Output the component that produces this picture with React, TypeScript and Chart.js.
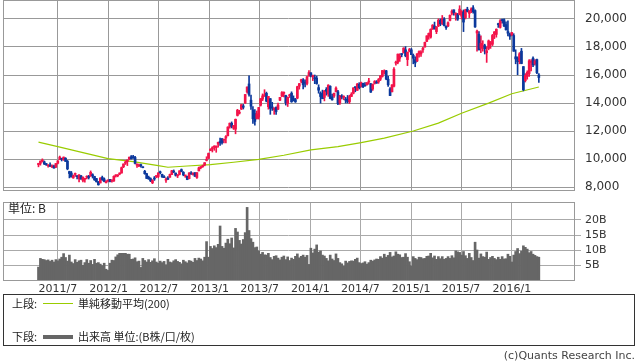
import React, { useEffect, useRef } from "react";
import { Chart, registerables } from "chart.js";
Chart.register(...registerables);

// ---- data (weekly, first bar = week ending 2011-04-22) ----
const firstWeek = "2011-04-22";

const opens = [
  // 2011
  9600, 9690, 9850, 9800, 9620, 9520, 9560, 9440, 9500, 9420, 9700, 9980, 10040, 9950, 10050, 9840, 9100, 9000, 8650, 8900,
  8780, 8600, 8800, 8470, 8550, 8700, 8770, 8780, 8880, 8750, 8600, 8340, 8290, 8680, 8580, 8300, 8440,
  // 2012
  8550, 8420, 8430, 8790, 8800, 8930, 9000, 9450, 9700, 9810, 10010, 10160, 10100, 10110, 9560, 9500, 9580, 9420, 9120, 8950,
  8700, 8600, 8300, 8630, 8750, 8750, 9050, 8900, 8740, 8490, 8640, 8700, 8890, 9130, 8990, 8800, 8900, 9240, 9050, 8790,
  8760, 8600, 9000, 8900, 9020, 8680, 9150, 9380, 9460, 9570, 9900, 10050,
  // 2013
  10600, 10740, 10850, 10820, 11060, 11240, 11420, 11350, 11500, 11660, 12300, 12550, 12200, 12130, 13110, 13270, 13570, 13790, 14000, 14790,
  15360, 14200, 13500, 13240, 12890, 13000, 13840, 14280, 14490, 14690, 13740, 14310, 13690, 13520, 13680, 13560, 14200, 14490, 14690, 14530,
  13960, 14520, 14700, 14320, 14240, 14350, 15200, 15550, 15650, 15500, 15400, 15950,
  // 2014
  16150, 15880, 15740, 15780, 15100, 14700, 14640, 14400, 14970, 14650, 15200, 14440, 14500, 14800, 14800, 14000, 14500, 14400, 14280, 14250,
  14100, 14470, 14700, 15150, 14900, 15340, 15200, 15400, 15300, 15300, 15500, 15370, 15000, 15400, 15500, 15500, 15700, 15900, 16200, 16300,
  15700, 15000, 14800, 15200, 16850, 16900, 17200, 17500, 17600, 17800, 17100, 17700, 17800,
  // 2015
  17400, 17100, 17000, 17500, 17500, 17800, 18000, 18400, 18800, 18700, 19300, 19500, 19100, 19500, 19900, 19700, 20000, 19500, 19500, 19900,
  20400, 20650, 20300, 20300, 20300, 20200, 20500, 20100, 20700, 20400, 20600, 20800, 20600, 19000, 18900, 17900, 18000, 18100, 17600, 17900,
  18200, 18200, 18900, 18900, 19600, 19400, 19900, 19950, 19600, 19100, 18900, 18850,
  // 2016
  18820, 17300, 17200, 17000, 17700, 16600, 15600, 15900, 16100, 16900, 17200, 16800, 17100, 16000,
];

const highs = [
  9700, 9870, 10010, 9860, 9680, 9580, 9720, 9590, 9570, 9680, 9880, 10210, 10060, 10150, 10100, 9900, 9130, 9110, 8860, 9000,
  8820, 8880, 8830, 8730, 8620, 8800, 8830, 9150, 8950, 8770, 8620, 8400, 8660, 8780, 8650, 8460, 8500,
  8550, 8510, 8800, 8880, 8880, 9010, 9430, 9650, 9870, 9930, 10140, 10250, 10255, 10190, 9650, 9630, 9640, 9440, 9190, 8980,
  8780, 8660, 8530, 8750, 8800, 9020, 9140, 8930, 8810, 8660, 8750, 8920, 9190, 9220, 9010, 8890, 9160, 9290, 9100, 8840,
  8780, 9030, 9100, 9010, 9030, 9030, 9420, 9460, 9560, 9740, 10160, 10430,
  10740, 10880, 10950, 10930, 11200, 11500, 11480, 11430, 11670, 12300, 12570, 12650, 12400, 12860, 13550, 13480, 13890, 13900, 14610, 15160,
  15942, 14560, 13750, 13530, 13430, 13690, 14320, 14650, 14950, 14780, 14470, 14320, 14050, 13600, 13730, 14000, 14410, 14820, 14800, 14560,
  14440, 14630, 14800, 14510, 14330, 15200, 15400, 15700, 15750, 15650, 15900, 16320,
  16170, 16000, 16000, 15920, 15300, 14800, 14920, 14900, 15100, 15310, 15230, 14640, 14700, 15160, 14900, 14550, 14600, 14520, 14400, 14540,
  14560, 14740, 15100, 15150, 15400, 15450, 15490, 15420, 15450, 15460, 15760, 15400, 15360, 15600, 15600, 15750, 15960, 16320, 16370, 16330,
  15900, 15100, 15320, 16530, 17000, 17500, 17520, 17530, 17950, 18030, 17650, 17900, 17900,
  17500, 17300, 17530, 17720, 17750, 17980, 18360, 18800, 19000, 19300, 19600, 19780, 19460, 20010, 20000, 20250, 20100, 19500, 19800, 20300,
  20660, 20660, 20450, 20400, 20950, 20600, 20650, 20700, 20840, 20600, 20800, 20950, 20650, 19200, 19100, 18800, 18450, 18200, 18000, 18500,
  18400, 18900, 19100, 19300, 19700, 19960, 20000, 20012, 19800, 19870, 19000, 19050,
  18950, 17800, 17300, 17600, 17900, 16600, 16100, 16300, 17100, 17100, 17290, 17100, 17130, 16100,
];

const lows = [
  9440, 9560, 9780, 9600, 9540, 9410, 9460, 9380, 9350, 9380, 9650, 9950, 9860, 9900, 9820, 9230, 8650, 8710, 8620, 8760,
  8570, 8360, 8560, 8360, 8340, 8580, 8570, 8760, 8640, 8470, 8350, 8130, 8290, 8470, 8370, 8290, 8380,
  8360, 8340, 8400, 8710, 8730, 8870, 8990, 9380, 9610, 9530, 9950, 10000, 10040, 9640, 9390, 9450, 9420, 9370, 8910, 8610,
  8550, 8380, 8240, 8470, 8660, 8660, 8940, 8690, 8660, 8330, 8520, 8680, 8880, 9020, 8780, 8670, 8860, 9080, 8800, 8690,
  8520, 8580, 8900, 8850, 8750, 8620, 9140, 9300, 9400, 9510, 9860, 10030,
  10590, 10500, 10620, 10480, 10850, 10970, 11060, 11140, 11150, 11650, 12200, 12220, 12110, 11800, 13070, 13210, 13530, 13570, 13970, 14700,
  14480, 13550, 12550, 12415, 12850, 12850, 13780, 14170, 14470, 14080, 13560, 13190, 13470, 13190, 13180, 13530, 14160, 14450, 14440, 13850,
  13750, 14390, 14050, 14140, 14040, 14300, 14990, 15440, 15010, 15150, 15300, 15900,
  15860, 15600, 15380, 15340, 14700, 13990, 14300, 14150, 14560, 14470, 14300, 14200, 14400, 14790, 13885, 13900, 14290, 14230, 14000, 14000,
  13960, 14450, 14650, 14800, 14900, 15000, 15130, 15100, 15200, 15280, 15350, 14750, 14900, 15350, 15400, 15400, 15600, 15850, 16060, 15660,
  15180, 14530, 14800, 15150, 16700, 16800, 16970, 17300, 17560, 17300, 16670, 17650, 17450,
  16800, 16590, 16950, 17270, 17320, 17620, 17990, 18380, 18550, 18630, 19250, 19280, 18950, 19450, 19520, 19600, 19500, 19260, 19450, 19860,
  20300, 20280, 19910, 19900, 20300, 20000, 19100, 20000, 20500, 20100, 20450, 20420, 19400, 17700, 17800, 17600, 17700, 17500, 16900, 17800,
  17900, 18100, 18600, 18700, 19400, 19350, 19700, 19450, 19200, 18800, 18550, 18800,
  17690, 16800, 16017, 16800, 16800, 14865, 15500, 15700, 15900, 16300, 16600, 16700, 16100, 15470,
];

const closes = [
  9682, 9849, 9859, 9648, 9607, 9521, 9492, 9514, 9351, 9678, 9868, 10137, 9974, 10132, 9833, 9299, 8963, 8719, 8797, 8950,
  8737, 8864, 8560, 8700, 8606, 8747, 8678, 9050, 8801, 8514, 8375, 8160, 8643, 8536, 8401, 8395, 8455,
  8390, 8500, 8766, 8841, 8831, 8947, 9384, 9647, 9777, 9930, 10130, 10011, 10084, 9689, 9638, 9562, 9520, 9380, 8953, 8611,
  8580, 8440, 8460, 8570, 8799, 9007, 9021, 8725, 8670, 8566, 8555, 8891, 9163, 9070, 8840, 8872, 9159, 9110, 8870, 8863,
  8534, 9002, 8933, 8990, 8757, 9024, 9366, 9446, 9527, 9737, 9940, 10395,
  10688, 10801, 10913, 10926, 11191, 11153, 11173, 11385, 11606, 12283, 12560, 12338, 12398, 12834, 13485, 13316, 13884, 13694, 14607, 15138,
  14612, 13775, 12877, 12686, 13230, 13677, 14310, 14506, 14589, 14130, 14467, 13615, 13651, 13660, 13389, 13860, 14404, 14742, 14760, 14024,
  14404, 14561, 14088, 14201, 14086, 15165, 15382, 15662, 15299, 15403, 15870, 16178,
  15908, 15912, 15734, 15391, 14915, 14462, 14313, 14865, 14841, 15274, 14327, 14224, 14696, 15063, 13960, 14517, 14429, 14457, 14199, 14097,
  14462, 14632, 15077, 15097, 15349, 15095, 15437, 15165, 15215, 15457, 15523, 14778, 15318, 15539, 15425, 15669, 15948, 16321, 16229, 15708,
  15300, 14532, 15291, 16413, 16880, 17490, 17357, 17460, 17920, 17371, 17621, 17818, 17451,
  17198, 16864, 17512, 17674, 17648, 17913, 18332, 18797, 18971, 19254, 19560, 19286, 19435, 19908, 19653, 20020, 19531, 19379, 19732, 20264,
  20563, 20461, 20407, 19990, 20706, 20539, 19780, 20650, 20544, 20585, 20724, 20519, 19435, 19136, 17792, 18264, 18070, 17880, 17725, 18438,
  18291, 18826, 19083, 19265, 19597, 19880, 19883, 19504, 19230, 18986, 18770, 19034,
  17698, 17147, 16958, 17518, 16819, 14952, 15967, 16188, 17015, 16939, 16725, 17003, 16164, 15821,
];

// weekly volume (billions of shares)
const volumes = [
  4.3, 7.2, 6.9, 6.8, 6.5, 6.7, 6.2, 6.6, 6.0, 6.8, 6.4, 7.0, 7.6, 8.8, 7.5, 6.3, 8.3, 6.0, 5.5, 6.8,
  5.9, 6.4, 6.6, 4.9, 5.8, 6.8, 5.6, 6.5, 5.2, 6.9, 5.6, 5.8, 5.3, 4.8, 5.6, 3.6, 3.2,
  5.6, 6.6, 6.5, 7.7, 8.4, 8.9, 8.9, 8.9, 8.9, 8.6, 8.6, 6.9, 7.0, 7.4, 6.1, 6.3, 4.2, 7.2, 6.5, 6.0,
  6.8, 5.9, 6.4, 7.1, 6.0, 5.6, 6.3, 5.8, 6.2, 5.1, 6.9, 6.0, 5.8, 6.4, 6.8, 6.2, 5.9, 5.4, 6.6, 6.1,
  5.7, 6.5, 6.3, 5.9, 7.2, 6.5, 7.3, 7.0, 6.4, 7.6, 12.8, 7.6,
  11.2, 10.5, 11.4, 10.8, 11.9, 18.0, 11.2, 10.6, 12.3, 13.6, 12.1, 14.0, 10.7, 17.2, 16.0, 13.2, 12.0, 13.5, 15.8, 24.2,
  16.5, 13.8, 12.6, 10.8, 11.0, 9.7, 8.6, 9.2, 8.4, 8.3, 8.9, 7.5, 6.8, 7.9, 8.1, 7.3, 6.7, 7.6, 8.0, 6.8,
  7.7, 6.5, 7.3, 6.9, 7.9, 8.7, 7.4, 7.9, 8.3, 7.6, 8.2, 5.2,
  10.6, 9.0, 10.3, 11.7, 9.3, 9.7, 8.3, 8.0, 7.2, 6.4, 8.3, 7.0, 6.5, 8.7, 7.2, 5.8, 5.4, 4.6, 6.3, 5.7,
  6.2, 6.4, 6.3, 6.9, 7.3, 5.8, 5.5, 5.7, 6.1, 5.3, 5.8, 6.6, 6.3, 6.7, 7.0, 6.9, 7.8, 7.3, 8.6, 7.6,
  8.2, 9.2, 7.7, 8.0, 9.4, 8.6, 8.4, 7.5, 7.6, 8.8, 7.6, 6.1, 4.7,
  7.8, 7.2, 6.8, 7.6, 7.5, 7.1, 7.2, 7.9, 8.0, 8.9, 7.4, 8.0, 6.9, 7.8, 7.1, 7.8, 6.9, 7.2, 7.8, 7.2,
  8.1, 7.4, 9.7, 9.4, 9.2, 8.3, 9.5, 8.1, 7.2, 8.9, 7.5, 6.5, 12.6, 10.0, 7.3, 8.7, 7.8, 7.6, 9.3, 6.9,
  7.5, 7.9, 7.2, 6.8, 7.6, 6.9, 7.8, 7.0, 7.1, 8.6, 7.9, 6.0,
  8.3, 9.5, 10.5, 8.8, 9.6, 11.4, 10.9, 10.3, 9.1, 9.5, 8.6, 8.2, 7.8, 7.6,
];

// 200-period simple moving average, read at these week positions
const maWeeks = [0, 10, 23, 36, 49, 62, 67, 77, 89, 101, 114, 127, 141, 155, 167, 179, 194, 207, 219, 233, 245, 259];
const maValues = [11200, 10890, 10450, 10030, 9810, 9530, 9410, 9500, 9600, 9770, 9980, 10270, 10650, 10890, 11170, 11490, 12000, 12560, 13270, 13990, 14660, 15140];

const tickMonths = ["2011-07-01", "2012-01-01", "2012-07-01", "2013-01-01", "2013-07-01", "2014-01-01", "2014-07-01", "2015-01-01", "2015-07-01", "2016-01-01"];
const tickLabels = ["2011/7", "2012/1", "2012/7", "2013/1", "2013/7", "2014/1", "2014/7", "2015/1", "2015/7", "2016/1"];
const priceTicks = [8000, 10000, 12000, 14000, 16000, 18000, 20000];
const volumeTicks = [5, 10, 15, 20];

// ---- helpers ----
const WEEK_MS = 7 * 86400000;
const startMs = Date.parse(firstWeek);
const tickIdx = tickMonths.map((d) => (Date.parse(d) - startMs) / WEEK_MS);

const X_MIN = -18.37;
const X_MAX = 277.2;
const UP = "#f3134a";
const DOWN = "#0b389c";
const GREEN = "#99cc00";
const FONT = "DejaVu Sans";
const JP = "'Noto Sans CJK JP', 'DejaVu Sans', sans-serif";

const framePlugin = {
  id: "frame",
  afterDraw(chart: any, _args: any, opts: any) {
    const { ctx, chartArea: a } = chart;
    ctx.save();
    ctx.strokeStyle = opts.color || "#999";
    ctx.lineWidth = 1;
    ctx.strokeRect(Math.round(a.left) + 0.5, Math.round(a.top) + 0.5, Math.round(a.right - a.left), Math.round(a.bottom - a.top));
    ctx.restore();
  },
};

const noPad = (s: any) => {
  s.paddingTop = 0;
  s.paddingBottom = 0;
  s.paddingLeft = 0;
  s.paddingRight = 0;
};

function PriceChart() {
  const ref = useRef<HTMLCanvasElement>(null);
  useEffect(() => {
    const colors = closes.map((c, i) => (c >= opens[i] ? UP : DOWN));
    const wick = lows.map((l, i) => ({ x: i, y: [l, highs[i]] }));
    const body = opens.map((o, i) => ({ x: i, y: [o, closes[i]] }));
    const ma = maWeeks.map((w, i) => ({ x: w, y: maValues[i] }));
    const chart = new Chart(ref.current!, {
      type: "bar",
      data: {
        datasets: [
          { type: "line", data: ma, borderColor: GREEN, borderWidth: 1.2, pointRadius: 0, tension: 0, order: 3 } as any,
          { type: "bar", data: wick, backgroundColor: colors, barThickness: 1, grouped: false, order: 2 } as any,
          { type: "bar", data: body, backgroundColor: colors, barThickness: 2, grouped: false, minBarLength: 1, order: 1 } as any,
        ],
      },
      options: {
        responsive: false,
        animation: false,
        devicePixelRatio: 1,
        layout: { padding: { left: 3, top: 0, right: 0, bottom: 5 } },
        plugins: { legend: { display: false }, tooltip: { enabled: false }, frame: { color: "#999" } } as any,
        scales: {
          x: {
            type: "linear",
            min: X_MIN,
            max: X_MAX,
            offset: false,
            grid: { color: "#999", drawTicks: false, offset: false },
            border: { display: false },
            ticks: { display: false },
            afterBuildTicks: (s: any) => { s.ticks = tickIdx.map((v) => ({ value: v })); },
            afterFit: (s: any) => { s.height = 0; noPad(s); },
          },
          y: {
            position: "right",
            min: 7786,
            max: 21357,
            grid: { color: "#999", drawTicks: false },
            border: { display: false },
            ticks: {
              padding: 11,
              color: "#333",
              font: { family: FONT, size: 12 },
              callback: (v: any) => Number(v).toLocaleString("en-US"),
            },
            afterBuildTicks: (s: any) => { s.ticks = priceTicks.map((v) => ({ value: v })); },
            afterFit: (s: any) => { s.width = 64; noPad(s); },
          },
        },
      } as any,
      plugins: [framePlugin],
    });
    return () => chart.destroy();
  }, []);
  return <canvas ref={ref} width={638} height={195} style={{ position: "absolute", left: 0, top: 0, width: 638, height: 195 }} />;
}

function VolumeChart() {
  const ref = useRef<HTMLCanvasElement>(null);
  useEffect(() => {
    const vol = volumes.map((v, i) => ({ x: i, y: v }));
    const chart = new Chart(ref.current!, {
      type: "bar",
      data: { datasets: [{ data: vol, backgroundColor: "#666666", barThickness: 2, grouped: false } as any] },
      options: {
        responsive: false,
        animation: false,
        devicePixelRatio: 1,
        layout: { padding: { left: 3, top: 6, right: 0, bottom: 0 } },
        plugins: { legend: { display: false }, tooltip: { enabled: false }, frame: { color: "#999" } } as any,
        scales: {
          x: {
            type: "linear",
            min: X_MIN,
            max: X_MAX,
            offset: false,
            grid: { color: "#aaa", drawTicks: false, offset: false },
            border: { display: false },
            ticks: {
              autoSkip: false,
              maxRotation: 0,
              padding: 3,
              color: "#333",
              font: { family: FONT, size: 11 },
              callback: (_v: any, i: number) => tickLabels[i],
            },
            afterBuildTicks: (s: any) => { s.ticks = tickIdx.map((v) => ({ value: v })); },
            afterFit: (s: any) => { s.height = 20; noPad(s); },
          },
          y: {
            position: "right",
            min: 0,
            max: 26,
            grid: { color: "#aaa", drawTicks: true, tickLength: 7 },
            border: { display: false },
            ticks: {
              padding: 4,
              color: "#333",
              font: { family: FONT, size: 11 },
              callback: (v: any) => v + "B",
            },
            afterBuildTicks: (s: any) => { s.ticks = volumeTicks.map((v) => ({ value: v })); },
            afterFit: (s: any) => { s.width = 64; noPad(s); },
          },
        },
      } as any,
      plugins: [framePlugin],
    });
    return () => chart.destroy();
  }, []);
  return <canvas ref={ref} width={638} height={104} style={{ position: "absolute", left: 0, top: 196, width: 638, height: 104 }} />;
}

const txt: React.CSSProperties = { position: "absolute", fontFamily: JP, fontSize: 11, lineHeight: "14px", color: "#222", whiteSpace: "nowrap" };

export default function App() {
  return (
    <div style={{ position: "fixed", left: 0, top: 0, width: 638, height: 362, background: "#fff", overflow: "hidden" }}>
      <PriceChart />
      <VolumeChart />
      <div style={{ ...txt, left: 8, top: 201, fontSize: 12 }}>単位: B</div>
      <div style={{ position: "absolute", left: 3, top: 294, width: 632, height: 52, border: "1px solid #333", boxSizing: "border-box" }} />
      <div style={{ ...txt, left: 12, top: 296 }}>上段:</div>
      <div style={{ position: "absolute", left: 43, top: 303, width: 30, height: 1, background: GREEN }} />
      <div style={{ ...txt, left: 78, top: 296 }}>単純移動平均(200)</div>
      <div style={{ ...txt, left: 12, top: 329 }}>下段:</div>
      <div style={{ position: "absolute", left: 43, top: 335, width: 30, height: 4, background: "#666" }} />
      <div style={{ ...txt, left: 78, top: 329 }}>出来高 単位:(B株/口/枚)</div>
      <div style={{ ...txt, right: 3, top: 349, color: "#444", fontFamily: "'DejaVu Sans', sans-serif" }}>(c)Quants Research Inc.</div>
    </div>
  );
}
